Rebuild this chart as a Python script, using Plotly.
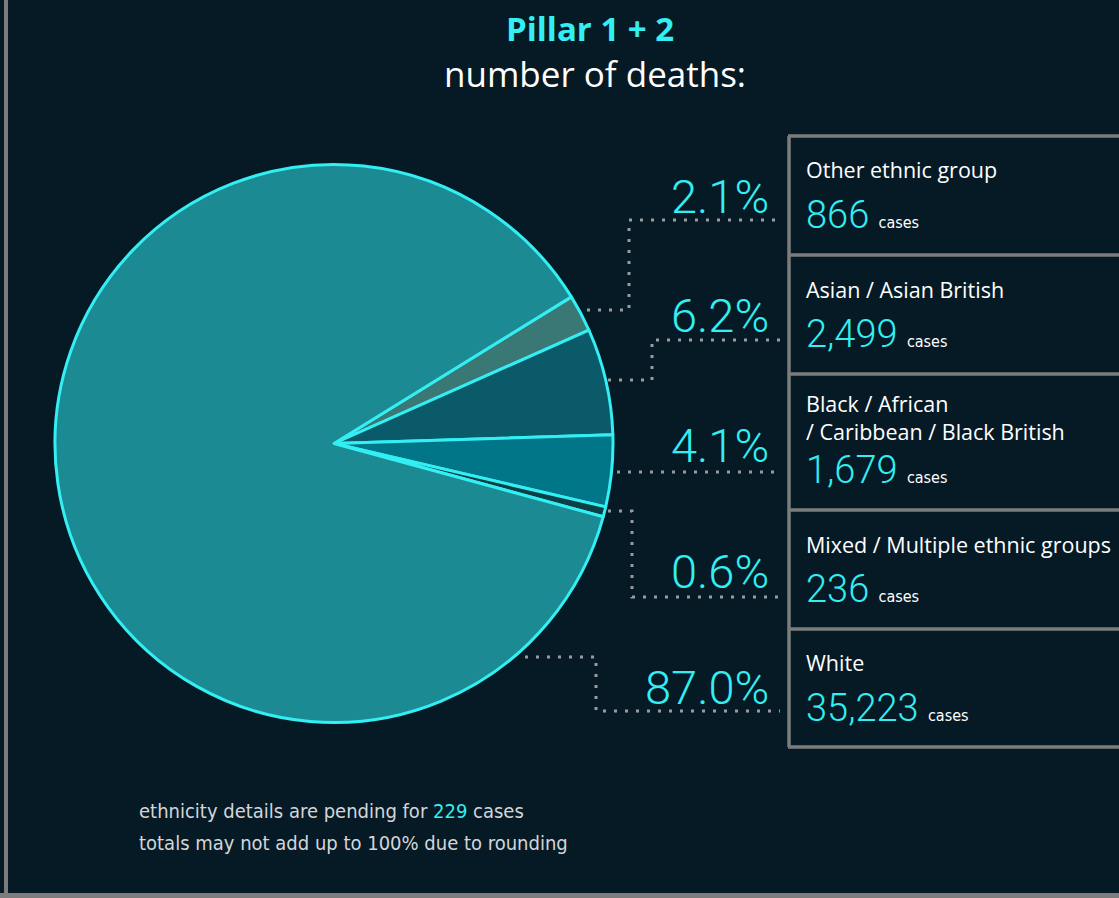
import plotly.graph_objects as go

W, H = 1119, 898

# ---- data ----
labels = ["Other ethnic group", "Asian / Asian British",
          "Black / African<br>/ Caribbean / Black British",
          "Mixed / Multiple ethnic groups", "White"]
values = [866, 2499, 1679, 236, 35223]
value_text = ["866", "2,499", "1,679", "236", "35,223"]
pct_text = ["2.1%", "6.2%", "4.1%", "0.6%", "87.0%"]
slice_colors = ["#3a7876", "#0a5a6a", "#007688", "#0e3f45", "#1b8a92"]
pending_cases = 229

# ---- style ----
BG = "#061a26"
CYAN = "#33eef2"
GRAY = "#7c7c7c"
DOT = "#9a9a9a"
HUM = "Open Sans, Noto Sans, sans-serif"
LIGHT = "Roboto, sans-serif"
NARROW = "DejaVu Sans Condensed, sans-serif"


def px(x):
    return x / W


def py(y):
    return 1 - y / H


cx, cy, r = 334, 443.5, 279

fig = go.Figure()
fig.add_trace(go.Pie(
    values=values,
    labels=[l.replace("<br>", " ") for l in labels],
    marker=dict(colors=slice_colors, line=dict(color=CYAN, width=3)),
    sort=False, direction="clockwise", rotation=58.3,
    textinfo="none", hoverinfo="label+value+percent", showlegend=False,
    domain=dict(x=[px(cx - r), px(cx + r)], y=[py(cy + r), py(cy - r)]),
))

shapes = []
annotations = []

# frame borders
shapes.append(dict(type="line", xref="paper", yref="paper",
                   x0=px(6), x1=px(6), y0=py(0), y1=py(893),
                   line=dict(color=GRAY, width=4)))
shapes.append(dict(type="line", xref="paper", yref="paper",
                   x0=0, x1=1, y0=py(895.5), y1=py(895.5),
                   line=dict(color=GRAY, width=5)))

# legend boxes
box_lines = [136, 255, 374, 510, 629, 747]
for yb in box_lines:
    shapes.append(dict(type="line", xref="paper", yref="paper",
                       x0=px(788), x1=px(1125), y0=py(yb), y1=py(yb),
                       line=dict(color=GRAY, width=3.5)))
shapes.append(dict(type="line", xref="paper", yref="paper",
                   x0=px(789), x1=px(789), y0=py(136), y1=py(747),
                   line=dict(color=GRAY, width=3.5)))

# dotted leader lines
leaders = [
    [(587, 310), (629, 310), (629, 220), (780, 220)],
    [(608, 380), (652, 380), (652, 340), (780, 340)],
    [(617, 472), (780, 472)],
    [(608, 511), (632, 511), (632, 597), (780, 597)],
    [(525, 657), (596, 657), (596, 711), (780, 711)],
]
for pts in leaders:
    path = "M " + " L ".join(f"{px(x):.5f},{py(y):.5f}" for x, y in pts)
    shapes.append(dict(type="path", xref="paper", yref="paper", path=path,
                       line=dict(color=DOT, width=3, dash="3px,8px")))

# percentages
pct_y = [195, 315, 444, 570, 686]
for t, yy in zip(pct_text, pct_y):
    annotations.append(dict(x=px(771), y=py(yy + 1), xref="paper", yref="paper",
                            text=t, showarrow=False, xanchor="right", yanchor="middle",
                            font=dict(family=LIGHT, size=47, color=CYAN, weight=300)))

# box labels
label_y = [170, 289, 418, 544, 662]
for t, yy in zip(labels, label_y):
    annotations.append(dict(x=px(804), y=py(yy), xref="paper", yref="paper",
                            text=t, showarrow=False, xanchor="left", yanchor="middle",
                            align="left",
                            font=dict(family=HUM, size=21.5, color="#ffffff")))

# values + "cases"
val_y = [214, 333, 469, 588, 707]
for t, yy in zip(value_text, val_y):
    annotations.append(dict(
        x=px(804), y=py(yy + 1), xref="paper", yref="paper",
        text=(f"{t} <span style='font-size:16px;color:#ffffff;"
              f"font-family:DejaVu Sans Condensed;font-weight:400'>cases</span>"),
        showarrow=False, xanchor="left", yanchor="middle",
        font=dict(family=LIGHT, size=38, color=CYAN, weight=300)))

# title
annotations.append(dict(x=px(590), y=py(29), xref="paper", yref="paper",
                        text="<b>Pillar 1 + 2</b>", showarrow=False,
                        xanchor="center", yanchor="middle",
                        font=dict(family=HUM, size=33, color=CYAN)))
annotations.append(dict(x=px(595), y=py(74), xref="paper", yref="paper",
                        text="number of deaths:", showarrow=False,
                        xanchor="center", yanchor="middle",
                        font=dict(family=HUM, size=35, color="#ffffff")))

# footnotes
annotations.append(dict(
    x=px(137), y=py(811), xref="paper", yref="paper",
    text=f"ethnicity details are pending for <span style='color:{CYAN}'>{pending_cases}</span> cases",
    showarrow=False, xanchor="left", yanchor="middle",
    font=dict(family=NARROW, size=20, color="#d2d6d9")))
annotations.append(dict(
    x=px(137), y=py(843), xref="paper", yref="paper",
    text="totals may not add up to 100% due to rounding",
    showarrow=False, xanchor="left", yanchor="middle",
    font=dict(family=NARROW, size=20, color="#d2d6d9")))

fig.update_layout(
    width=W, height=H, margin=dict(l=0, r=0, t=0, b=0),
    paper_bgcolor=BG, plot_bgcolor=BG,
    shapes=shapes, annotations=annotations,
)

fig.write_html(
    "out.html",
    config={"displayModeBar": False},
    post_script="document.body.style.margin='0';document.body.style.background='#061a26';",
)
